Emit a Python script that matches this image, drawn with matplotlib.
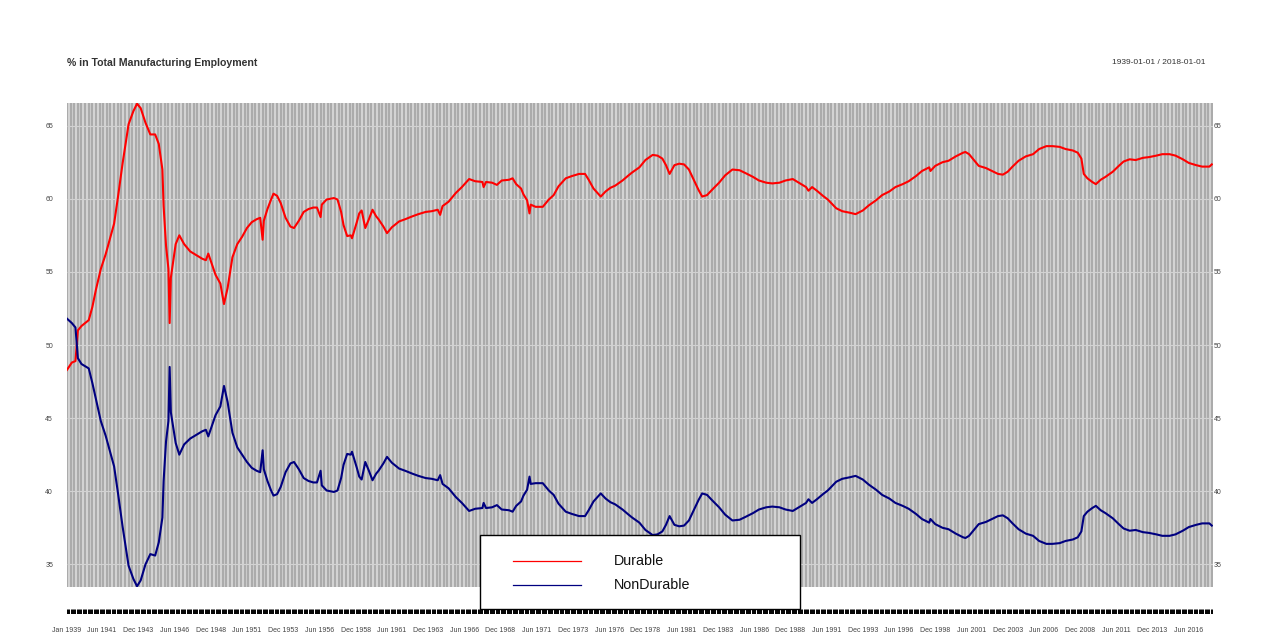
import numpy as np
import matplotlib
matplotlib.use("Agg")
import matplotlib.pyplot as plt
from matplotlib.patches import Rectangle
from matplotlib.lines import Line2D
from datetime import datetime

plt.rcParams['font.family'] = ['Liberation Sans', 'DejaVu Sans']

# monthly series at selected months
dates = [
    "1939-01", "1939-05", "1939-08", "1939-10", "1940-01", "1940-07", "1940-10", "1941-01",
    "1941-05", "1941-09", "1942-01", "1942-04", "1942-07", "1942-11", "1943-04", "1943-08",
    "1943-11", "1944-02", "1944-06", "1944-10", "1945-02", "1945-05", "1945-08", "1945-09",
    "1945-11", "1946-01", "1946-02", "1946-03", "1946-07", "1946-10", "1947-02", "1947-07",
    "1947-11", "1948-05", "1948-08", "1948-10", "1949-04", "1949-08", "1949-11", "1950-02",
    "1950-06", "1950-10", "1951-02", "1951-06", "1951-10", "1952-02", "1952-05", "1952-07",
    "1952-08", "1952-11", "1953-02", "1953-04", "1953-07", "1953-10", "1954-02", "1954-06",
    "1954-09", "1955-01", "1955-05", "1955-09", "1956-01", "1956-04", "1956-07", "1956-08",
    "1956-12", "1957-06", "1957-09", "1957-12", "1958-02", "1958-05", "1958-08", "1958-09",
    "1959-01", "1959-03", "1959-05", "1959-08", "1959-11", "1960-02", "1960-05", "1960-07",
    "1960-11", "1961-02", "1961-06", "1961-12", "1962-05", "1962-11", "1963-04", "1963-10",
    "1964-03", "1964-08", "1964-10", "1964-12", "1965-05", "1965-11", "1966-04", "1966-10",
    "1967-03", "1967-09", "1967-10", "1967-12", "1968-05", "1968-09", "1969-01", "1969-07",
    "1969-10", "1970-01", "1970-05", "1970-07", "1970-10", "1970-12", "1971-01", "1971-05",
    "1971-11", "1972-01", "1972-04", "1972-08", "1972-12", "1973-06", "1973-11", "1974-05",
    "1974-10", "1975-01", "1975-05", "1975-11", "1976-03", "1976-07", "1976-11", "1977-05",
    "1977-10", "1978-01", "1978-07", "1978-12", "1979-06", "1979-10", "1980-02", "1980-05",
    "1980-08", "1980-12", "1981-04", "1981-08", "1981-12", "1982-04", "1982-08", "1982-11",
    "1983-03", "1983-07", "1984-01", "1984-06", "1984-12", "1985-06", "1985-11", "1986-05",
    "1986-10", "1987-04", "1987-09", "1988-03", "1988-08", "1989-02", "1989-07", "1990-01",
    "1990-03", "1990-06", "1990-10", "1991-03", "1991-07", "1992-02", "1992-07", "1993-01",
    "1993-06", "1993-12", "1994-05", "1994-11", "1995-04", "1995-10", "1996-03", "1996-09",
    "1997-02", "1997-08", "1998-01", "1998-07", "1998-08", "1998-12", "1999-06", "1999-11",
    "2000-05", "2000-11", "2001-01", "2001-04", "2001-08", "2001-12", "2002-06", "2002-11",
    "2003-04", "2003-08", "2003-12", "2004-04", "2004-09", "2005-03", "2005-09", "2006-02",
    "2006-08", "2007-01", "2007-07", "2007-12", "2008-06", "2008-10", "2009-01", "2009-03",
    "2009-06", "2009-10", "2010-01", "2010-05", "2010-09", "2011-03", "2011-08", "2011-12",
    "2012-05", "2012-10", "2013-04", "2013-09", "2014-03", "2014-08", "2015-02", "2015-07",
    "2016-01", "2016-06", "2016-12", "2017-05", "2017-11", "2018-01",
]

durable = [
    48.3, 48.8, 48.9, 51.0, 51.3, 51.7, 52.6, 53.8,
    55.2, 56.2, 57.4, 58.3, 60.0, 62.4, 65.1, 66.0,
    66.5, 66.2, 65.2, 64.4, 64.4, 63.75, 62.0, 59.5,
    56.8, 55.2, 51.5, 54.6, 56.9, 57.5, 56.9, 56.4,
    56.2, 55.9, 55.8, 56.25, 54.8, 54.2, 52.8, 53.9,
    56.0, 56.9, 57.4, 58.0, 58.4, 58.6, 58.7, 57.2,
    58.5, 59.3, 59.95, 60.35, 60.2, 59.7, 58.7, 58.1,
    58.0, 58.5, 59.1, 59.3, 59.4, 59.4, 58.75, 59.6,
    59.95, 60.05, 59.95, 59.1, 58.2, 57.45, 57.5, 57.3,
    58.4, 59.0, 59.2, 58.0, 58.6, 59.25, 58.8, 58.6,
    58.1, 57.65, 58.05, 58.45, 58.6, 58.8, 58.95, 59.1,
    59.15, 59.25, 58.9, 59.5, 59.8, 60.4, 60.8, 61.35,
    61.2, 61.15, 60.8, 61.15, 61.1, 60.95, 61.25, 61.3,
    61.4, 61.0, 60.7, 60.3, 59.9, 59.0, 59.6, 59.45,
    59.45, 59.65, 59.95, 60.25, 60.85, 61.4, 61.55, 61.7,
    61.7, 61.3, 60.7, 60.15, 60.5, 60.75, 60.9, 61.25,
    61.6, 61.8, 62.15, 62.65, 63.0, 62.95, 62.75, 62.3,
    61.7, 62.3, 62.4, 62.35, 62.0, 61.3, 60.6, 60.15,
    60.25, 60.6, 61.1, 61.6, 62.0, 61.95, 61.75, 61.5,
    61.25, 61.1, 61.05, 61.1, 61.25, 61.35, 61.1, 60.8,
    60.55, 60.8, 60.55, 60.2, 59.95, 59.35, 59.15, 59.05,
    58.95, 59.2, 59.55, 59.9, 60.25, 60.5, 60.8, 61.0,
    61.2, 61.55, 61.9, 62.15, 61.9, 62.25, 62.5, 62.6,
    62.9, 63.15, 63.2, 63.05, 62.65, 62.25, 62.1, 61.9,
    61.7, 61.65, 61.85, 62.2, 62.6, 62.9, 63.05, 63.4,
    63.6, 63.6, 63.55, 63.4, 63.3, 63.15, 62.75, 61.7,
    61.4, 61.15, 61.0, 61.3, 61.5, 61.85, 62.25, 62.55,
    62.7, 62.65, 62.8, 62.85, 62.95, 63.05, 63.05, 62.95,
    62.7, 62.45, 62.3, 62.2, 62.2, 62.35,
]

nondurable = [
    51.8, 51.5, 51.2, 49.1, 48.7, 48.4, 47.4, 46.3,
    44.8, 43.8, 42.6, 41.7, 40.0, 37.6, 34.9, 34.0,
    33.5, 33.9, 35.0, 35.7, 35.6, 36.5, 38.2, 40.7,
    43.4, 44.8, 48.5, 45.4, 43.3, 42.5, 43.2, 43.6,
    43.8, 44.1, 44.2, 43.75, 45.2, 45.8, 47.2, 46.1,
    44.0, 43.0, 42.5, 42.0, 41.6, 41.4, 41.3, 42.8,
    41.5, 40.7, 40.05, 39.7, 39.8, 40.3, 41.3, 41.9,
    42.0, 41.5, 40.9, 40.7, 40.6, 40.6, 41.4, 40.4,
    40.05, 39.95, 40.05, 40.9, 41.8, 42.55, 42.5, 42.7,
    41.6, 41.0, 40.8, 42.0, 41.4, 40.75, 41.2, 41.4,
    41.9, 42.35, 41.95, 41.55, 41.4, 41.2, 41.05, 40.9,
    40.85, 40.75, 41.1, 40.5, 40.2, 39.6, 39.2, 38.65,
    38.8, 38.85, 39.2, 38.85, 38.9, 39.05, 38.75, 38.7,
    38.6, 39.0, 39.3, 39.7, 40.1, 41.0, 40.5, 40.55,
    40.55, 40.35, 40.05, 39.75, 39.15, 38.6, 38.45, 38.3,
    38.3, 38.7, 39.3, 39.85, 39.5, 39.25, 39.1, 38.75,
    38.4, 38.2, 37.85, 37.35, 37.0, 37.05, 37.25, 37.7,
    38.3, 37.7, 37.6, 37.65, 38.0, 38.7, 39.4, 39.85,
    39.75, 39.4, 38.9, 38.4, 38.0, 38.05, 38.25, 38.5,
    38.75, 38.9, 38.95, 38.9, 38.75, 38.65, 38.9, 39.2,
    39.45, 39.2, 39.45, 39.8, 40.05, 40.65, 40.85, 40.95,
    41.05, 40.8, 40.45, 40.1, 39.75, 39.5, 39.2, 39.0,
    38.8, 38.45, 38.1, 37.85, 38.1, 37.75, 37.5, 37.4,
    37.1, 36.85, 36.8, 36.95, 37.35, 37.75, 37.9, 38.1,
    38.3, 38.35, 38.15, 37.8, 37.4, 37.1, 36.95, 36.6,
    36.4, 36.4, 36.45, 36.6, 36.7, 36.85, 37.25, 38.3,
    38.6, 38.85, 39.0, 38.7, 38.5, 38.15, 37.75, 37.45,
    37.3, 37.35, 37.2, 37.15, 37.05, 36.95, 36.95, 37.05,
    37.3, 37.55, 37.7, 37.8, 37.8, 37.65,
]

x_labels = [
    "Jan 1939", "Jun 1941", "Dec 1943", "Jun 1946", "Dec 1948", "Jun 1951", "Dec 1953",
    "Jun 1956", "Dec 1958", "Jun 1961", "Dec 1963", "Jun 1966", "Dec 1968", "Jun 1971",
    "Dec 1973", "Jun 1976", "Dec 1978", "Jun 1981", "Dec 1983", "Jun 1986", "Dec 1988",
    "Jun 1991", "Dec 1993", "Jun 1996", "Dec 1998", "Jun 2001", "Dec 2003", "Jun 2006",
    "Dec 2008", "Jun 2011", "Dec 2013", "Jun 2016",
]
y_ticks = [35, 40, 45, 50, 55, 60, 65]

start, end = "1939-01", "2018-01"


def month_index(d):
    # months since the first observation
    return (d.year - 1939) * 12 + d.month - 1


x = [month_index(datetime.strptime(d, "%Y-%m")) for d in dates]
n_months = month_index(datetime.strptime(end, "%Y-%m")) + 1
label_pos = [month_index(datetime.strptime(l, "%b %Y")) for l in x_labels]

W, H = 1280, 642
fig = plt.figure(figsize=(W / 100, H / 100), dpi=100)
fig.patch.set_facecolor("white")

ax = fig.add_axes([67 / W, 55 / H, 1146 / W, 484 / H])
ax.set_facecolor("#dcdcdc")
ax.set_xlim(0, n_months)
ax.set_ylim(33.45, 66.55)

# quarterly vertical stripes + horizontal grid at y ticks
ax.vlines(np.arange(0, n_months, 3), 0, 1, transform=ax.get_xaxis_transform(),
          colors="#ababab", lw=1.7, zorder=0.5)
ax.hlines(y_ticks, 0, n_months, colors="#d2d2d2", lw=0.8, zorder=0.6)

ax.plot(x, durable, color="#ff0000", lw=1.5, zorder=3)
ax.plot(x, nondurable, color="#000080", lw=1.5, zorder=3)

for s in ax.spines.values():
    s.set_visible(False)
ax.set_xticks([])
ax.set_yticks(y_ticks)
ax.tick_params(axis="y", length=0, labelsize=5, labelcolor="#444444", pad=10)

ax2 = ax.twinx()
ax2.set_ylim(ax.get_ylim())
ax2.set_yticks(y_ticks)
ax2.tick_params(axis="y", length=0, labelsize=5, labelcolor="#444444", pad=0.5)
for s in ax2.spines.values():
    s.set_visible(False)

# dense monthly tick band under the panel
bax = fig.add_axes([67 / W, (H - 614) / H, 1146 / W, 5 / H])
bax.vlines(np.arange(n_months), 0, 1, colors="black", lw=0.7)
bax.set_xlim(0, n_months)
bax.set_ylim(0, 1)
for s in bax.spines.values():
    s.set_visible(False)
bax.set_yticks([])
bax.set_xticks(label_pos)
bax.set_xticklabels(x_labels)
bax.tick_params(axis="x", length=0, labelsize=5, labelcolor="#444444", pad=9.5)

fig.text(67 / W, 1 - 63 / H, "% in Total Manufacturing Employment", fontsize=7.6,
         fontweight="bold", color="#333333", ha="left", va="center")
fig.text(1206 / W, 1 - 63 / H, f"{start}-01 / {end}-01", fontsize=6,
         color="#333333", ha="right", va="center")

# legend box
fig.add_artist(Rectangle((480 / W, (H - 609) / H), 320 / W, 74 / H,
                         transform=fig.transFigure, facecolor="white",
                         edgecolor="black", lw=1, zorder=5))
for name, color, yy in [("Durable", "#ff0000", 561), ("NonDurable", "#000080", 585)]:
    fig.add_artist(Line2D([513 / W, 581 / W], [1 - yy / H, 1 - yy / H],
                          transform=fig.transFigure, color=color, lw=0.9, zorder=6))
    fig.text(614 / W, 1 - yy / H, name, fontsize=10.3, color="#111111",
             ha="left", va="center", zorder=6)

fig.savefig("out.png", dpi=100)
